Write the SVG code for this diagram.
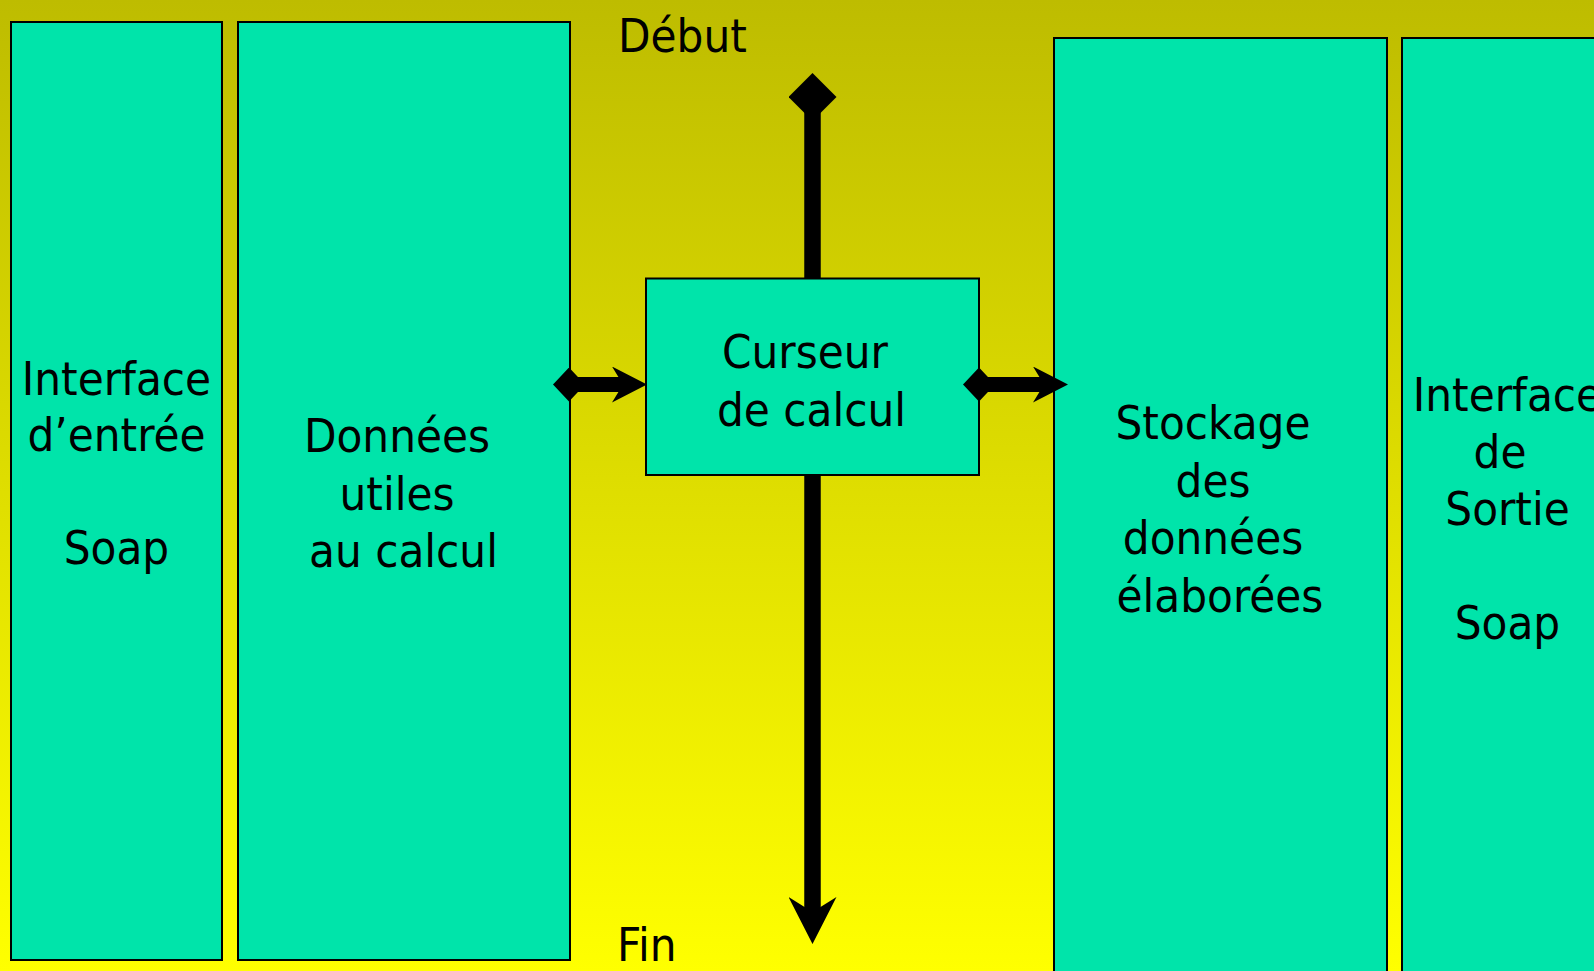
<svg xmlns="http://www.w3.org/2000/svg" width="1594" height="971" viewBox="0 0 1594 971">
  <defs>
    <linearGradient id="bg" x1="0" y1="0" x2="0" y2="1">
      <stop offset="0" stop-color="#BEBC00"/>
      <stop offset="1" stop-color="#FFFF00"/>
    </linearGradient>
    <!-- diamond tails and stealth heads for the flow lines -->
    <marker id="dia-lg" markerUnits="userSpaceOnUse" viewBox="0 0 48 48" markerWidth="48" markerHeight="48" refX="24" refY="24" orient="auto">
      <path d="M0,24 L24,0 L48,24 L24,48 Z" fill="#000"/>
    </marker>
    <marker id="dia-sm" markerUnits="userSpaceOnUse" viewBox="0 0 32 34" markerWidth="32" markerHeight="34" refX="16" refY="17" orient="auto">
      <path d="M0,17 L16,0 L32,17 L16,34 Z" fill="#000"/>
    </marker>
    <marker id="head-lg" markerUnits="userSpaceOnUse" viewBox="0 0 47 48" markerWidth="47" markerHeight="48" refX="15" refY="24" orient="auto">
      <path d="M0,0 L47,24 L0,48 L15,24 Z" fill="#000"/>
    </marker>
    <marker id="head-sm" markerUnits="userSpaceOnUse" viewBox="0 0 35 36" markerWidth="35" markerHeight="36" refX="11" refY="18" orient="auto">
      <path d="M0,0 L35,18 L0,36 L11,18 Z" fill="#000"/>
    </marker>
  </defs>
  <style>
    .box { fill: #00E4AA; stroke: #000; stroke-width: 2; }
    .lbl { font-family: "DejaVu Sans Condensed", "DejaVu Sans", sans-serif; font-stretch: condensed; font-size: 47px; fill: #000; text-anchor: middle; }
    .free { text-anchor: start; }
    .flow { fill: none; stroke: #000; stroke-linecap: butt; }
  </style>

  <rect x="0" y="0" width="1594" height="971" fill="url(#bg)"/>

  <g id="interface-entree">
    <rect class="box" x="11" y="22" width="211" height="938"/>
    <text class="lbl" x="116.5" y="395">Interface</text>
    <text class="lbl" x="116.5" y="451">d’entrée</text>
    <text class="lbl" x="116.5" y="564">Soap</text>
  </g>

  <g id="donnees-utiles">
    <rect class="box" x="238" y="22" width="332" height="938"/>
    <text class="lbl" x="397" y="452">Données</text>
    <text class="lbl" x="397" y="510">utiles</text>
    <text class="lbl" x="403.5" y="567">au calcul</text>
  </g>

  <g id="curseur">
    <rect class="box" x="646" y="278.5" width="333" height="196.5"/>
    <text class="lbl" x="805" y="368">Curseur</text>
    <text class="lbl" x="811.5" y="426">de calcul</text>
  </g>

  <g id="stockage">
    <rect class="box" x="1054" y="38" width="333" height="950"/>
    <text class="lbl" x="1213" y="439">Stockage</text>
    <text class="lbl" x="1213" y="496.5">des</text>
    <text class="lbl" x="1213" y="554">données</text>
    <text class="lbl" x="1220" y="611.5">élaborées</text>
  </g>

  <g id="interface-sortie">
    <rect class="box" x="1402" y="38" width="250" height="950"/>
    <text class="lbl" x="1507.5" y="411">Interface</text>
    <text class="lbl" x="1500" y="468">de</text>
    <text class="lbl" x="1507.5" y="525">Sortie</text>
    <text class="lbl" x="1507.5" y="639">Soap</text>
  </g>

  <g id="debut">
    <text class="lbl free" x="618" y="52">Début</text>
  </g>

  <g id="fin">
    <text class="lbl free" x="617" y="961">Fin</text>
  </g>

  <g id="connectors">
    <line class="flow" x1="812.5" y1="97" x2="812.5" y2="279" stroke-width="16.5" marker-start="url(#dia-lg)"/>
    <line class="flow" x1="812.5" y1="474" x2="812.5" y2="912" stroke-width="16.5" marker-end="url(#head-lg)"/>
    <line class="flow" x1="569" y1="384.5" x2="623" y2="384.5" stroke-width="15" marker-start="url(#dia-sm)" marker-end="url(#head-sm)"/>
    <line class="flow" x1="979" y1="384.5" x2="1044" y2="384.5" stroke-width="15" marker-start="url(#dia-sm)" marker-end="url(#head-sm)"/>
  </g>
</svg>
